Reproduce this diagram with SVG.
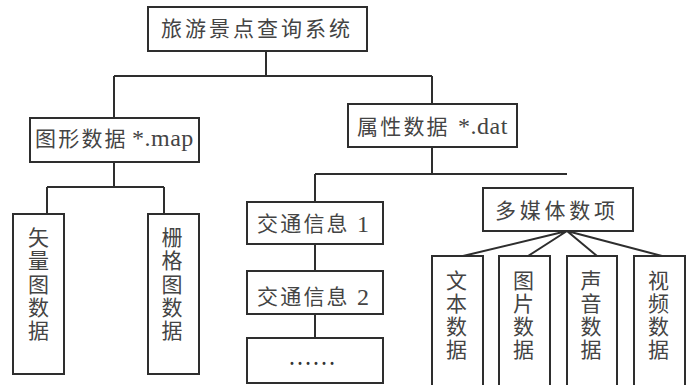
<svg xmlns="http://www.w3.org/2000/svg" width="687" height="385" viewBox="0 0 687 385">
<style>
.box{fill:#fff;stroke:#2e2e2e;stroke-width:2}
.ln{fill:none;stroke:#2e2e2e;stroke-width:2}
text{font-family:"Liberation Serif","Noto Sans CJK SC",serif;font-size:21px;fill:#444}
.cj{letter-spacing:2.2px}
.lat{font-size:24px;letter-spacing:0.5px}
.v{text-anchor:middle}
</style>
<rect width="687" height="385" fill="#fff"/>
<g id="connectors" class="ln">
<path d="M266,51V76M114,76H432M114,76V118M432,76V104"/>
<path d="M114,162V187M47,187H164M47,187V214M164,187V214"/>
<path d="M432,147V174M315,174H567M315,174V202M315,244V271M315,314V338"/>
<path d="M567,231L463,256M567,231L528,256M567,231L597,256M567,231L662,256"/>
</g>
<g id="root"><rect class="box" x="148" y="7" width="219" height="44"/>
<text x="161" y="36" textLength="189" lengthAdjust="spacing">旅游景点查询系统</text></g>
<g id="graphic"><rect class="box" x="30" y="118" width="169" height="44"/>
<text x="35" y="146"><tspan class="cj">图形数据</tspan> <tspan class="lat" x="132">*.map</tspan></text></g>
<g id="attr"><rect class="box" x="348" y="104" width="169" height="43"/>
<text x="357" y="134"><tspan class="cj">属性数据</tspan> <tspan class="lat" x="458">*.dat</tspan></text></g>
<g id="vector"><rect class="box" x="13" y="214" width="51" height="160"/>
<text class="v"><tspan x="38.5" y="245">矢</tspan><tspan x="38.5" y="268">量</tspan><tspan x="38.5" y="291.5">图</tspan><tspan x="38.5" y="315">数</tspan><tspan x="38.5" y="338">据</tspan></text></g>
<g id="raster"><rect class="box" x="148" y="214" width="51" height="160"/>
<text class="v"><tspan x="172" y="245">栅</tspan><tspan x="172" y="268">格</tspan><tspan x="172" y="291.5">图</tspan><tspan x="172" y="315">数</tspan><tspan x="172" y="338">据</tspan></text></g>
<g id="traffic1"><rect class="box" x="247" y="202" width="136" height="42"/>
<text x="257" y="231"><tspan class="cj">交通信息</tspan> <tspan class="lat" x="357" y="232">1</tspan></text></g>
<g id="traffic2"><rect class="box" x="247" y="271" width="136" height="43"/>
<text x="257" y="304"><tspan class="cj">交通信息</tspan> <tspan class="lat" x="357" y="305">2</tspan></text></g>
<g id="more"><rect class="box" x="247" y="338" width="136" height="45"/>
<text x="288" y="365" textLength="48" lengthAdjust="spacingAndGlyphs" style="font-size:28px;fill:#333">……</text></g>
<g id="multimedia"><rect class="box" x="483" y="188" width="150" height="43"/>
<text x="495" y="218" textLength="120" lengthAdjust="spacing">多媒体数项</text></g>
<g id="textdata"><rect class="box" x="432" y="256" width="51" height="140"/>
<text class="v"><tspan x="456.5" y="288">文</tspan><tspan x="456.5" y="311">本</tspan><tspan x="456.5" y="334">数</tspan><tspan x="456.5" y="357">据</tspan></text></g>
<g id="picdata"><rect class="box" x="499" y="256" width="51" height="140"/>
<text class="v"><tspan x="523.5" y="288">图</tspan><tspan x="523.5" y="311">片</tspan><tspan x="523.5" y="334">数</tspan><tspan x="523.5" y="357">据</tspan></text></g>
<g id="sounddata"><rect class="box" x="567" y="256" width="50" height="140"/>
<text class="v"><tspan x="591" y="288">声</tspan><tspan x="591" y="311">音</tspan><tspan x="591" y="334">数</tspan><tspan x="591" y="357">据</tspan></text></g>
<g id="videodata"><rect class="box" x="634" y="256" width="51" height="140"/>
<text class="v"><tspan x="658.5" y="288">视</tspan><tspan x="658.5" y="311">频</tspan><tspan x="658.5" y="334">数</tspan><tspan x="658.5" y="357">据</tspan></text></g>
</svg>
